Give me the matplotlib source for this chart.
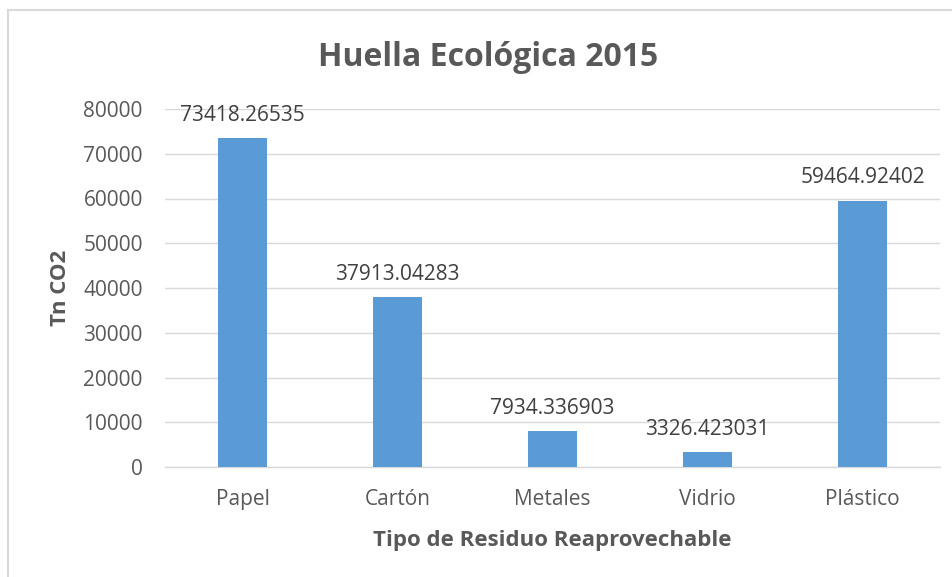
import matplotlib.pyplot as plt
from matplotlib.patches import Rectangle

categories = ["Papel", "Cartón", "Metales", "Vidrio", "Plástico"]
values = [73418.26535, 37913.04283, 7934.336903, 3326.423031, 59464.92402]
labels = ["73418.26535", "37913.04283", "7934.336903", "3326.423031", "59464.92402"]
yticks = [0, 10000, 20000, 30000, 40000, 50000, 60000, 70000, 80000]

plt.rcParams['font.family'] = ['Open Sans', 'DejaVu Sans']
txt = '#595959'

fig = plt.figure(figsize=(9.53, 5.77), dpi=100)
fig.patches.append(Rectangle((8/953, -0.1), 1.2, 1 - 10/577 + 0.1, transform=fig.transFigure,
                             fill=False, edgecolor='#D9D9D9', linewidth=1.5))
ax = fig.add_axes([165/953, 1 - 467/577, 775/953, 358/577])
x = list(range(len(categories)))
ax.bar(x, values, width=0.316, color='#5B9BD5', zorder=3)
ax.set_xlim(-0.5, 4.5)
ax.set_ylim(0, 80000)
ax.set_yticks(yticks)
ax.set_yticklabels([str(t) for t in yticks])
ax.set_xticks(x)
ax.set_xticklabels(categories)
ax.grid(axis='y', color='#D9D9D9', linewidth=1, zorder=0)
for s in ['top', 'right', 'left']:
    ax.spines[s].set_visible(False)
ax.spines['bottom'].set_color('#D9D9D9')
ax.spines['bottom'].set_linewidth(1)
ax.tick_params(axis='both', length=0, labelsize=15, colors=txt)
ax.tick_params(axis='y', pad=16)
ax.tick_params(axis='x', pad=16)
for xi, v, l in zip(x, values, labels):
    ax.annotate(l, (xi, v), xytext=(0, 9), textcoords='offset points', ha='center', va='bottom',
                fontsize=15, color='#404040')
ax.set_ylabel("Tn CO2", fontsize=16, fontweight='bold', color=txt, labelpad=9)
ax.set_xlabel("Tipo de Residuo Reaprovechable", fontsize=16, fontweight='bold', color=txt, labelpad=14)
fig.text(488/953, 1 - 58/577, "Huella Ecológica 2015", ha='center', va='center', fontsize=23,
         fontweight='bold', color=txt)
fig.savefig('out.png', dpi=100)
